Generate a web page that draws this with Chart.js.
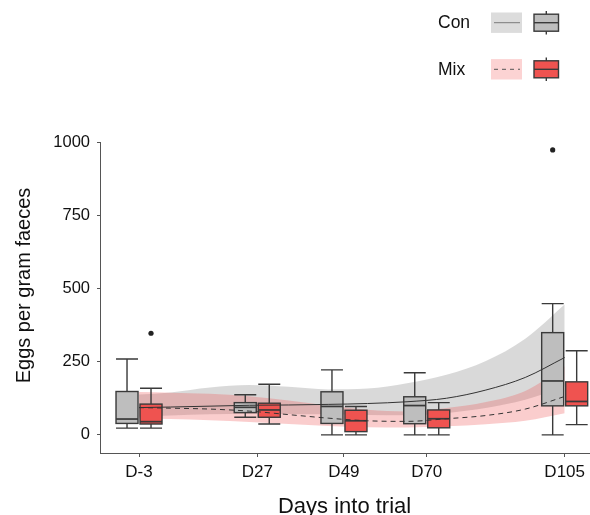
<!DOCTYPE html>
<html>
<head>
<meta charset="utf-8">
<script src="https://cdn.jsdelivr.net/npm/chart.js@4.4.0/dist/chart.umd.min.js"></script>
<style>
  html, body { margin: 0; padding: 0; background: #fff; }
</style>
</head>
<body>
<canvas id="myChart" width="590" height="515"></canvas>
<script>
// categories / ticks
var dayTicks = [-3, 27, 49, 70, 105];
var dayLabels = ["D-3", "D27", "D49", "D70", "D105"];
var yTicks = [0, 250, 500, 750, 1000];

// box stats for each sampling day
var conMin = [23, 60, 0, 0, 0];
var conQ1  = [39, 76, 39, 38, 99];
var conMed = [54, 94, 97, 100, 184];
var conQ3  = [148, 110, 147, 130, 349];
var conMax = [259, 137, 222, 212, 448];
var conOutDay = [105];
var conOutVal = [973];

var mixMin = [23, 37, 0, 0, 35];
var mixQ1  = [37, 60, 11, 24, 99];
var mixMed = [45, 85, 48, 55, 114];
var mixQ3  = [105, 108, 84, 85, 181];
var mixMax = [159, 173, 97, 110, 287];
var mixOutDay = [-3];
var mixOutVal = [347];

// fitted curves and confidence bands
var fitDays = [-3, 5, 15, 25, 35, 45, 55, 65, 75, 85, 95, 105];
var conFit = [93, 95, 98, 101, 102, 104, 107, 113, 125, 153, 196, 264];
var conHi  = [138, 145, 162, 170, 164, 155, 158, 176, 205, 252, 328, 445];
var conLo  = [63, 66, 70, 72, 71, 70, 68, 67, 75, 92, 120, 165];
var mixFit = [93, 91, 88, 81, 69, 57, 48, 46, 55, 66, 88, 131];
var mixHi  = [146, 144, 140, 132, 117, 100, 86, 80, 92, 112, 150, 233];
var mixLo  = [56, 54, 50, 44, 37, 30, 26, 25, 29, 36, 48, 74];

var FONT = "'Liberation Sans', Arial, sans-serif";
var GREY_BOX = '#bebebe';
var RED_BOX = '#ef5350';
var EDGE = '#3a3a3a';
var GREY_BAND = 'rgba(160,160,160,0.4)';
var RED_BAND = 'rgba(240,90,90,0.3)';

function pts(ys) {
  return fitDays.map(function(d, i) { return { x: d, y: ys[i] }; });
}

var boxSeries = [
  { min: conMin, q1: conQ1, med: conMed, q3: conQ3, max: conMax, outDay: conOutDay, outVal: conOutVal, fill: GREY_BOX, shift: -12 },
  { min: mixMin, q1: mixQ1, med: mixMed, q3: mixQ3, max: mixMax, outDay: mixOutDay, outVal: mixOutVal, fill: RED_BOX, shift: 12 }
];

// boxplots go between the bands and the fitted lines
var boxPlugin = {
  id: 'boxes',
  afterDatasetDraw: function(chart, args) {
    if (args.index !== 2) return;
    var ctx = chart.ctx, xs = chart.scales.x, ys = chart.scales.y;
    var half = 11;
    ctx.save();
    boxSeries.forEach(function(s) {
      for (var i = 0; i < dayTicks.length; i++) {
        var cx = xs.getPixelForValue(dayTicks[i]) + s.shift;
        var yMin = ys.getPixelForValue(s.min[i]);
        var yQ1 = ys.getPixelForValue(s.q1[i]);
        var yMed = ys.getPixelForValue(s.med[i]);
        var yQ3 = ys.getPixelForValue(s.q3[i]);
        var yMax = ys.getPixelForValue(s.max[i]);
        ctx.strokeStyle = EDGE;
        ctx.lineWidth = 1.4;
        ctx.beginPath();
        ctx.moveTo(cx, yQ3); ctx.lineTo(cx, yMax);
        ctx.moveTo(cx - half, yMax); ctx.lineTo(cx + half, yMax);
        ctx.moveTo(cx, yQ1); ctx.lineTo(cx, yMin);
        ctx.moveTo(cx - half, yMin); ctx.lineTo(cx + half, yMin);
        ctx.stroke();
        ctx.fillStyle = s.fill;
        ctx.fillRect(cx - half, yQ3, half * 2, yQ1 - yQ3);
        ctx.strokeRect(cx - half, yQ3, half * 2, yQ1 - yQ3);
        ctx.lineWidth = 1.7;
        ctx.beginPath();
        ctx.moveTo(cx - half, yMed); ctx.lineTo(cx + half, yMed);
        ctx.stroke();
      }
      ctx.fillStyle = '#222';
      for (var j = 0; j < s.outDay.length; j++) {
        var ox = xs.getPixelForValue(s.outDay[j]) + s.shift;
        var oy = ys.getPixelForValue(s.outVal[j]);
        ctx.beginPath();
        ctx.arc(ox, oy, 2.6, 0, Math.PI * 2);
        ctx.fill();
      }
    });
    ctx.restore();
  }
};

// legend (label, band swatch with line, box glyph) and the y title
var legendPlugin = {
  id: 'sideLegend',
  afterDraw: function(chart) {
    var ctx = chart.ctx;
    var rows = [
      { text: 'Con', cy: 22.7, band: '#dcdcdc', box: GREY_BOX, dash: [] , lineColor: '#7a7a7a' },
      { text: 'Mix', cy: 69.3, band: '#fcd3d3', box: RED_BOX, dash: [4, 4], lineColor: '#555' }
    ];
    ctx.save();
    rows.forEach(function(r) {
      ctx.fillStyle = '#111';
      ctx.font = '17.5px ' + FONT;
      ctx.textAlign = 'left';
      ctx.textBaseline = 'alphabetic';
      ctx.fillText(r.text, 438, r.cy + 5.6);
      ctx.fillStyle = r.band;
      ctx.fillRect(491, r.cy - 10.2, 31, 20.4);
      ctx.strokeStyle = r.lineColor;
      ctx.lineWidth = 1;
      ctx.setLineDash(r.dash);
      ctx.beginPath();
      ctx.moveTo(494, r.cy); ctx.lineTo(520, r.cy);
      ctx.stroke();
      ctx.setLineDash([]);
      ctx.strokeStyle = EDGE;
      ctx.lineWidth = 1.4;
      ctx.beginPath();
      ctx.moveTo(546.3, r.cy - 11.7); ctx.lineTo(546.3, r.cy + 11.7);
      ctx.stroke();
      ctx.fillStyle = r.box;
      ctx.fillRect(534, r.cy - 8.5, 24.5, 17);
      ctx.strokeRect(534, r.cy - 8.5, 24.5, 17);
      ctx.beginPath();
      ctx.moveTo(534, r.cy); ctx.lineTo(558.5, r.cy);
      ctx.stroke();
    });

    // y axis title, centred a little above the panel middle as in the original
    var ya = chart.scales.y;
    ctx.translate(24, (ya.top + ya.bottom) / 2 - 12);
    ctx.rotate(-Math.PI / 2);
    ctx.fillStyle = '#111';
    ctx.font = '20px ' + FONT;
    ctx.textAlign = 'center';
    ctx.textBaseline = 'middle';
    ctx.fillText('Eggs per gram faeces', 0, 0);
    ctx.restore();
  }
};

var ctx = document.getElementById('myChart').getContext('2d');
var chart = new Chart(ctx, {
  type: 'line',
  data: {
    datasets: [
      { label: 'Con', data: pts(conFit), borderColor: '#333', borderWidth: 1, fill: false, order: 0 },
      { label: 'Mix', data: pts(mixFit), borderColor: '#333', borderWidth: 1, borderDash: [5, 4], fill: false, order: 0 },
      { label: 'Mix upper', data: pts(mixHi), borderWidth: 0, borderColor: 'rgba(0,0,0,0)', backgroundColor: RED_BAND, fill: '+1', order: 1 },
      { label: 'Mix lower', data: pts(mixLo), borderWidth: 0, borderColor: 'rgba(0,0,0,0)', fill: false, order: 1 },
      { label: 'Con upper', data: pts(conHi), borderWidth: 0, borderColor: 'rgba(0,0,0,0)', backgroundColor: GREY_BAND, fill: '+1', order: 2 },
      { label: 'Con lower', data: pts(conLo), borderWidth: 0, borderColor: 'rgba(0,0,0,0)', fill: false, order: 2 }
    ]
  },
  options: {
    responsive: false,
    animation: false,
    devicePixelRatio: 1,
    layout: { padding: { top: 142, left: 0, right: 0, bottom: 0 } },
    elements: {
      point: { radius: 0, hoverRadius: 0 },
      line: { cubicInterpolationMode: 'monotone' }
    },
    plugins: {
      legend: { display: false },
      tooltip: { enabled: false }
    },
    scales: {
      x: {
        type: 'linear',
        min: -12.9,
        max: 111.2,
        afterBuildTicks: function(s) { s.ticks = dayTicks.map(function(v) { return { value: v }; }); },
        afterFit: function(s) { s.height = 62; },
        grid: { drawOnChartArea: false, drawTicks: true, tickLength: 4, color: '#555' },
        border: { color: '#555', width: 1 },
        ticks: {
          autoSkip: false, maxRotation: 0, padding: 5, color: '#111',
          font: { family: FONT, size: 17 },
          callback: function(v, i) { return dayLabels[i]; }
        },
        title: {
          display: true, text: 'Days into trial', color: '#111',
          font: { family: FONT, size: 22, lineHeight: 1 },
          padding: { top: 0, bottom: -3 }
        }
      },
      y: {
        min: -62,
        max: 1000,
        afterBuildTicks: function(s) { s.ticks = yTicks.map(function(v) { return { value: v }; }); },
        afterFit: function(s) { s.width = 100; },
        grid: { drawOnChartArea: false, drawTicks: true, tickLength: 3, color: '#555' },
        border: { color: '#555', width: 1 },
        ticks: {
          padding: 7, color: '#111',
          font: { family: FONT, size: 16.5 },
          callback: function(v) { return String(v); }
        }
      }
    }
  },
  plugins: [boxPlugin, legendPlugin]
});
</script>
</body>
</html>
